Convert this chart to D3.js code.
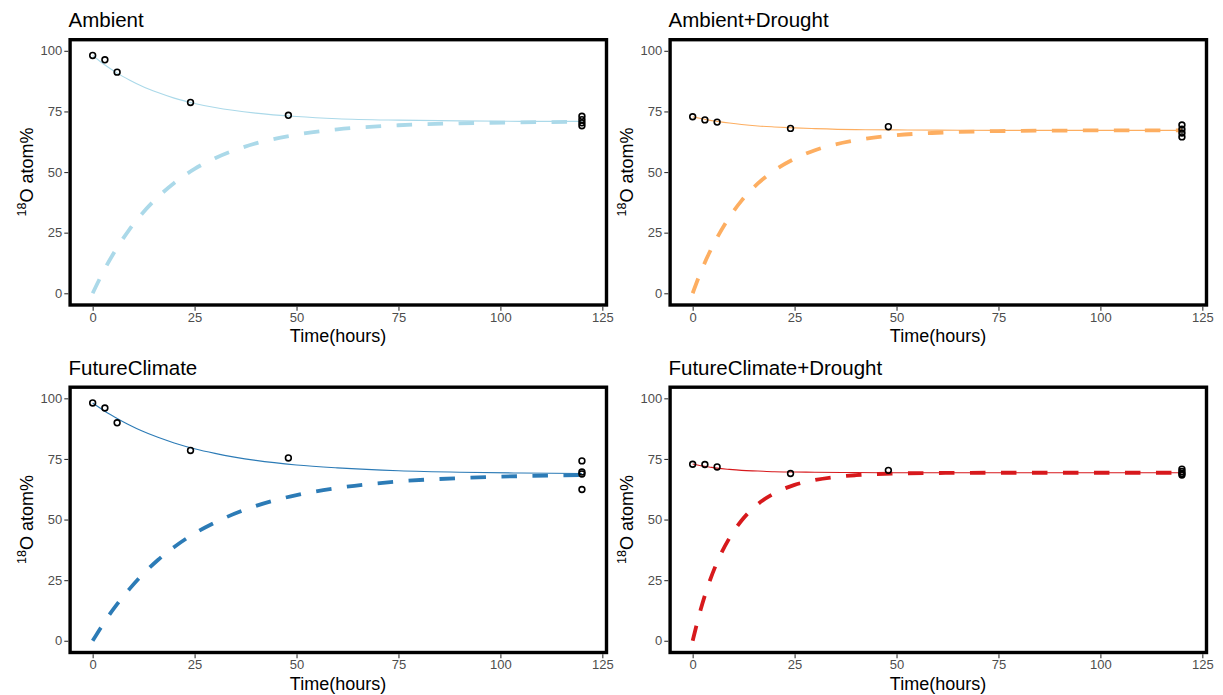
<!DOCTYPE html>
<html lang="en">
<head>
<meta charset="UTF-8">
<title>18O atom% over time</title>
<script src="https://cdn.jsdelivr.net/npm/d3@7"></script>
<style>
  body { margin: 0; background: #fff; }
  text { font-family: "Liberation Sans", Arial, Helvetica, sans-serif; }
</style>
</head>
<body>
<script>
// panel titles and colours (RdYlBu)
var panelTitles = ["Ambient", "Ambient+Drought", "FutureClimate", "FutureClimate+Drought"];
var colours = ["#abd9e9", "#fdae61", "#2c7bb6", "#d7191c"];

var xTicks = [0, 25, 50, 75, 100, 125];
var yTicks = [0, 25, 50, 75, 100];

// observed points
var obsTime = [0, 3, 6, 24, 48, 120, 120, 120, 120];
var obsAmbient = [98.1, 96.3, 91.2, 78.7, 73.4, 73.0, 71.6, 70.3, 69.1];
var obsAmbDrought = [72.8, 71.5, 70.6, 68.0, 68.7, 69.4, 67.7, 66.1, 64.5];
var obsFuture = [98.1, 96.0, 89.9, 78.5, 75.4, 74.2, 69.6, 68.8, 62.4];
var obsFutDrought = [72.8, 72.7, 71.7, 69.0, 70.3, 70.8, 69.8, 69.0, 68.4];

// fitted curves (solid = fit, dashed = mirror)
var fitTime = [0, 2, 4, 6, 9, 12, 16, 20, 25, 30, 40, 50, 60, 75, 90, 105, 120];
var fitAmbient = [98.1, 95.4, 93.0, 90.8, 88.0, 85.5, 82.8, 80.5, 78.3, 76.6, 74.3, 72.9, 72.0, 71.4, 71.1, 70.9, 70.9];
var mirAmbient = [0, 6.9, 13.2, 18.8, 26.3, 32.6, 39.7, 45.5, 51.3, 55.7, 61.8, 65.4, 67.6, 69.3, 70.1, 70.5, 70.7];
var fitAmbDrought = [72.8, 72.1, 71.4, 70.9, 70.2, 69.6, 69.0, 68.6, 68.2, 67.9, 67.5, 67.4, 67.3, 67.2, 67.2, 67.2, 67.2];
var mirAmbDrought = [0, 8.8, 16.4, 23.0, 31.4, 38.2, 45.3, 50.6, 55.5, 59.0, 63.1, 65.2, 66.2, 66.9, 67.1, 67.2, 67.2];
var fitFuture = [98.1, 95.8, 93.6, 91.7, 89.0, 86.6, 83.9, 81.6, 79.2, 77.3, 74.4, 72.5, 71.3, 70.1, 69.5, 69.2, 69.0];
var mirFuture = [0, 5.4, 10.5, 15.1, 21.3, 26.9, 33.3, 38.7, 44.3, 48.8, 55.6, 60.1, 63.0, 65.7, 67.1, 67.9, 68.3];
var fitFutDrought = [72.9, 72.2, 71.7, 71.2, 70.7, 70.3, 70.0, 69.7, 69.6, 69.5, 69.4, 69.3, 69.3, 69.3, 69.3, 69.3, 69.3];
var mirFutDrought = [0, 13.1, 23.8, 32.4, 42.3, 49.6, 56.4, 60.8, 64.3, 66.3, 68.3, 69.0, 69.2, 69.3, 69.3, 69.3, 69.3];

var obsSets = [obsAmbient, obsAmbDrought, obsFuture, obsFutDrought];
var fitSets = [fitAmbient, fitAmbDrought, fitFuture, fitFutDrought];
var mirSets = [mirAmbient, mirAmbDrought, mirFuture, mirFutDrought];

var w = 1223, h = 695;

var svg = d3.select("body")
    .append("svg")
    .attr("width", w)
    .attr("height", h);

var x = d3.scaleLinear().domain([-6, 126]).range([68.2, 606.4]);
var y = d3.scaleLinear().domain([-5, 105]).range([305.4, 38.7]);

var line = d3.line()
    .x(function(d) { return x(d[0]); })
    .y(function(d) { return y(d[1]); })
    .curve(d3.curveMonotoneX);

panelTitles.forEach(function(title, i) {
    var ox = (i % 2) * 600,
        oy = Math.floor(i / 2) * 347.5;
    var g = svg.append("g").attr("transform", "translate(" + ox + "," + oy + ")");

    // title
    g.append("text")
        .attr("x", 68.5)
        .attr("y", 27)
        .attr("font-size", "20.5px")
        .attr("fill", "#000")
        .text(title);

    // axes
    var yAxis = g.append("g")
        .attr("transform", "translate(68.3,0)")
        .call(d3.axisLeft(y).tickValues(yTicks).tickSize(4).tickPadding(2));
    var xAxis = g.append("g")
        .attr("transform", "translate(0,306.7)")
        .call(d3.axisBottom(x).tickValues(xTicks).tickSize(4).tickPadding(1.6));
    [xAxis, yAxis].forEach(function(a) {
        a.select(".domain").remove();
        a.selectAll(".tick line").attr("stroke", "#333333").attr("stroke-width", 1.1);
        a.selectAll(".tick text")
            .attr("fill", "#4d4d4d")
            .attr("font-size", "13px")
            .attr("font-family", "Liberation Sans, Arial, sans-serif");
    });

    // axis titles
    g.append("text")
        .attr("x", 338)
        .attr("y", 342)
        .attr("text-anchor", "middle")
        .attr("font-size", "18px")
        .text("Time(hours)");

    var yl = g.append("text")
        .attr("transform", "translate(33,172) rotate(-90)")
        .attr("text-anchor", "middle")
        .attr("font-size", "18px");
    yl.append("tspan").attr("font-size", "12.5px").attr("dy", "-7").text("18");
    yl.append("tspan").attr("dy", "7").text("O atom%");

    // curves
    var fit = fitTime.map(function(t, j) { return [t, fitSets[i][j]]; });
    var mir = fitTime.map(function(t, j) { return [t, mirSets[i][j]]; });

    g.append("path")
        .attr("d", line(mir))
        .attr("fill", "none")
        .attr("stroke", colours[i])
        .attr("stroke-width", 3.8)
        .attr("stroke-dasharray", "15.5,15.5");

    g.append("path")
        .attr("d", line(fit))
        .attr("fill", "none")
        .attr("stroke", colours[i])
        .attr("stroke-width", 1.1);

    // points
    g.selectAll("circle")
        .data(obsTime.map(function(t, j) { return [t, obsSets[i][j]]; }))
        .enter()
        .append("circle")
        .attr("cx", function(d) { return x(d[0]); })
        .attr("cy", function(d) { return y(d[1]); })
        .attr("r", 2.9)
        .attr("fill", "none")
        .attr("stroke", "#000")
        .attr("stroke-width", 1.6);

    // panel border
    g.append("rect")
        .attr("x", 70.1)
        .attr("y", 39.7)
        .attr("width", 536.4)
        .attr("height", 265.3)
        .attr("fill", "none")
        .attr("stroke", "#000")
        .attr("stroke-width", 3.4);
});
</script>
</body>
</html>
